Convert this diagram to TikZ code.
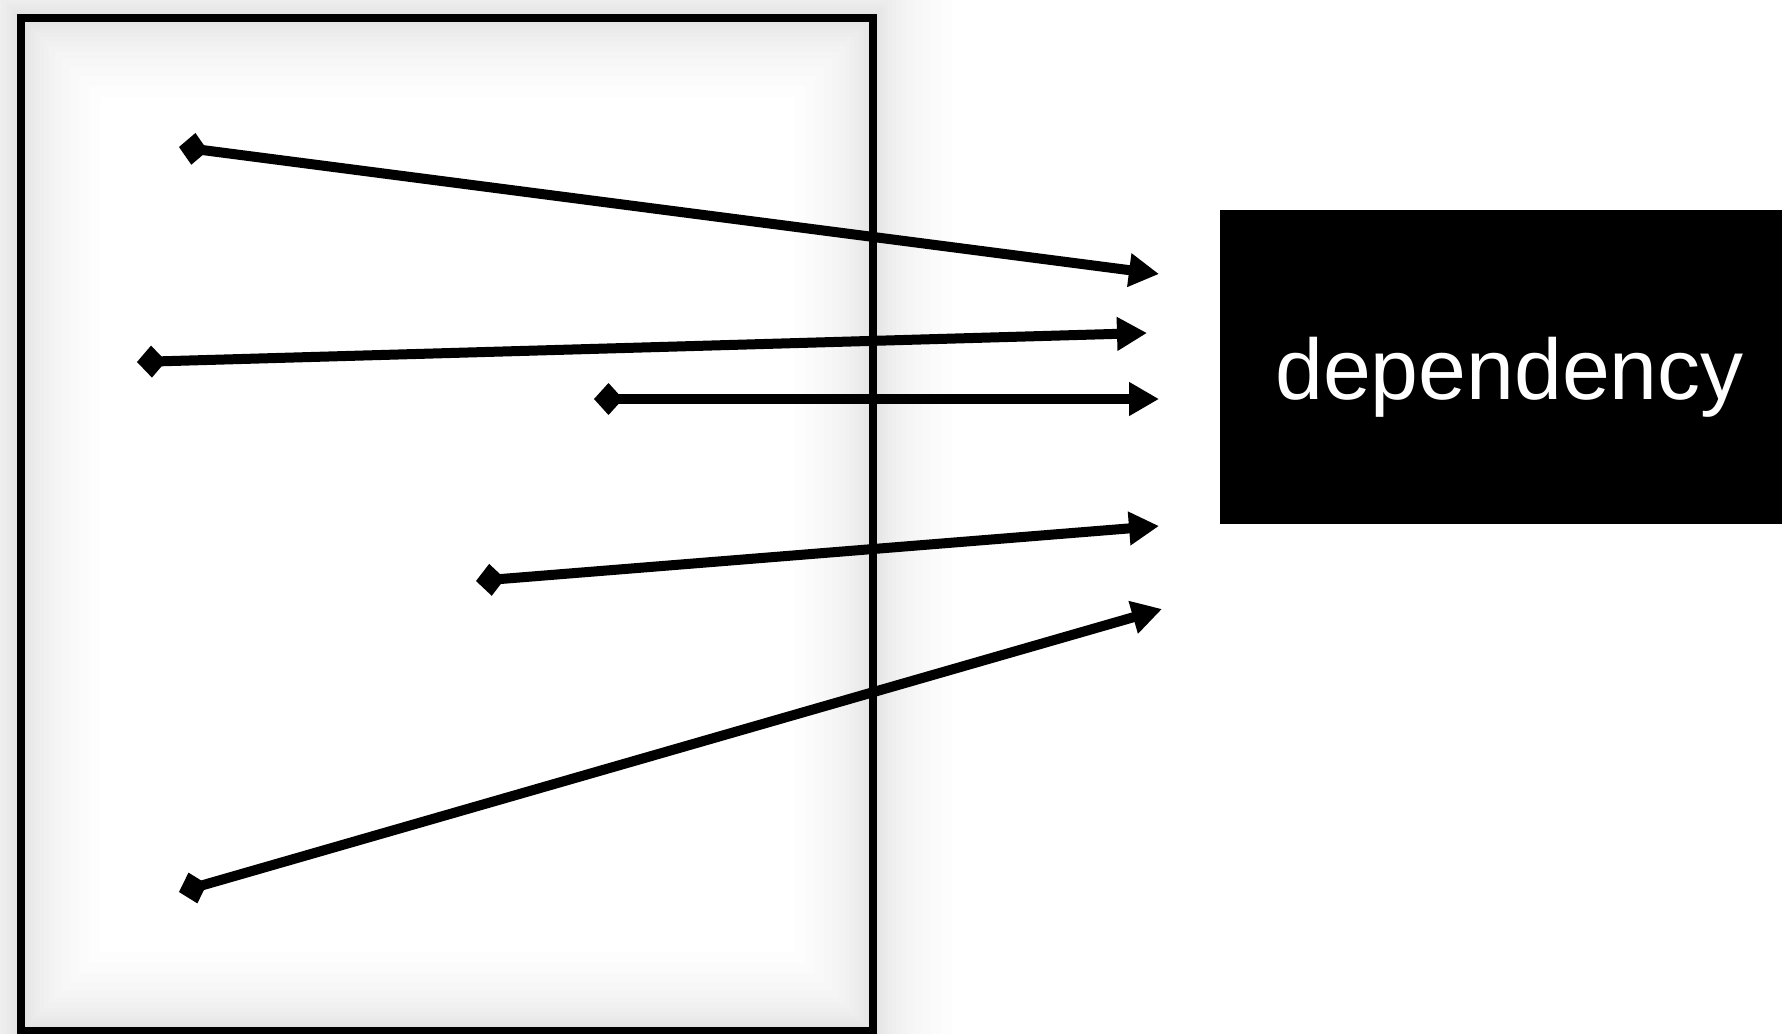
\documentclass[tikz,border=0pt]{standalone}
\usepackage{fontspec}
\newfontfamily\depfont{Liberation Sans}
\usetikzlibrary{arrows.meta}
\tikzset{
  framebox/.style={draw=black, line width=8pt},
  shadowline/.style={draw=black, opacity=0.0085},
  depbox/.style={fill=black, text=white, anchor=north west, inner xsep=55pt, inner ysep=0pt,
    minimum height=314pt, text width=600pt, align=flush left, text height=64pt, text depth=0pt,
    font=\depfont\fontsize{86}{90}\selectfont},
  dependarrow/.style={line width=10pt, {Diamond[length=29pt,width=32pt]}-{Triangle[length=30pt,width=32pt]}}
}
\begin{document}
\begin{tikzpicture}[x=1pt,y=-1pt]
\useasboundingbox (0,0) rectangle (1782,1033);
\fill[white] (0,0) rectangle (1782,1033);
% soft glow round the frame
\foreach \w in {6,12,18,24,30,38,46,56,68,82,98,116,136,158}
  \draw[shadowline, line width=\w pt] (21,18) rectangle (873,1031);
% frame
\draw[framebox] (21,18) rectangle (873,1031);
% dependency box
\node[depbox] (dep) at (1220,210) {\noindent dependency};
% arrow ends
\coordinate (s1) at (179,147);  \coordinate (e1) at (1159,274);
\coordinate (s2) at (137,362);  \coordinate (e2) at (1147,333);
\coordinate (s3) at (594,399);  \coordinate (e3) at (1159,399);
\coordinate (s4) at (476,581);  \coordinate (e4) at (1159,526);
\coordinate (s5) at (179,892);  \coordinate (e5) at (1162,609);
\draw[dependarrow] (s1) -- (e1);
\draw[dependarrow] (s2) -- (e2);
\draw[dependarrow] (s3) -- (e3);
\draw[dependarrow] (s4) -- (e4);
\draw[dependarrow] (s5) -- (e5);
\end{tikzpicture}
\end{document}
